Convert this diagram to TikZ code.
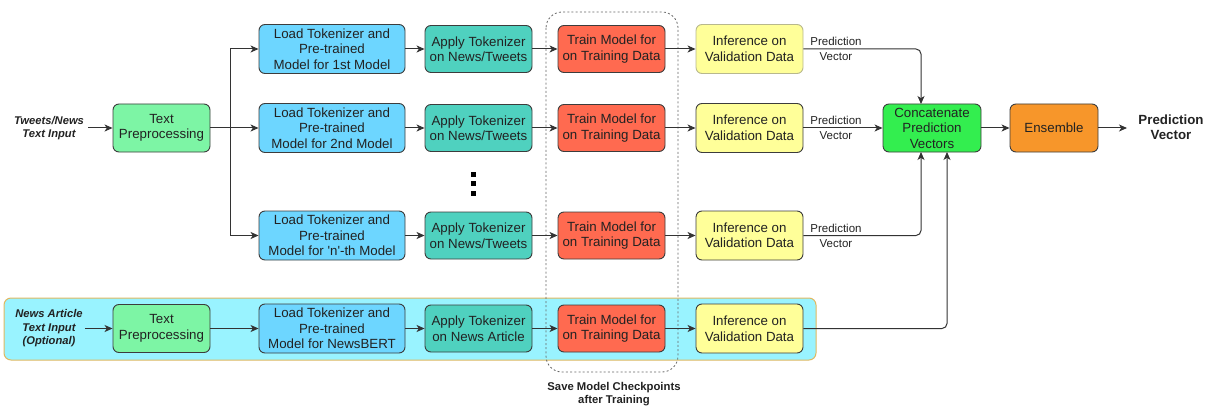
\documentclass[tikz,border=0pt]{standalone}
\usepackage{fontspec}
\setmainfont{Liberation Sans}
\usetikzlibrary{arrows.meta}
\definecolor{boxline}{HTML}{3C3C3C}
\definecolor{txt}{HTML}{222222}
\definecolor{prepc}{HTML}{7DF5A5}
\definecolor{loadc}{HTML}{6DD6FF}
\definecolor{applyc}{HTML}{4FD1BF}
\definecolor{trainc}{HTML}{FF6A50}
\definecolor{infc}{HTML}{FFFF99}
\definecolor{concc}{HTML}{33EE4F}
\definecolor{ensc}{HTML}{F7962A}
\definecolor{bandc}{HTML}{99F3FF}
\definecolor{bandline}{HTML}{E0B860}
\definecolor{linec}{HTML}{333333}
\begin{document}
\begin{tikzpicture}[x=1pt,y=-1pt,
  box/.style={draw=boxline, line width=0.9pt, rounded corners=6pt, align=center,
    inner sep=0pt, text=txt, font=\fontsize{13.3}{15.5}\selectfont},
  prep/.style={box, fill=prepc, minimum width=97pt, minimum height=48pt},
  load/.style={box, fill=loadc, minimum width=146pt, minimum height=49pt},
  apply/.style={box, fill=applyc, minimum width=107pt, minimum height=47pt},
  train/.style={box, fill=trainc, minimum width=107pt, minimum height=47pt},
  infer/.style={box, fill=infc, minimum width=107pt, minimum height=49pt},
  conn/.style={draw=linec, line width=1pt},
  arr/.style={conn, -{Stealth[length=8pt,width=7pt,inset=2.2pt]}},
  lbl/.style={align=center, inner sep=0pt, text=txt, font=\fontsize{11.2}{13.5}\selectfont\bfseries\itshape},
  pv/.style={align=center, inner sep=0pt, text=txt, font=\fontsize{11.5}{15}\selectfont},
  dotsq/.style={fill=black, minimum size=5pt, inner sep=0pt}
]
\useasboundingbox (0,0) rectangle (1215,409);

% optional band
\draw[fill=bandc, draw=bandline, line width=1pt, rounded corners=7pt] (4,298) rectangle (816,360);
% checkpoint region
\draw[draw=gray!80!black, line width=0.8pt, dash pattern=on 2pt off 2.2pt, rounded corners=16pt] (546,12) rectangle (678,372);

% inputs
\node[lbl] (tin) at (49,128) {Tweets/News\\Text Input};
\node[lbl] (nin) at (49,328.5) {News Article\\Text Input\\(Optional)};

% row boxes
\node[prep] (tp1) at (161.5,128) {Text\\Preprocessing};
\node[prep] (tpb) at (161.5,328.5) {Text\\Preprocessing};

\node[load] (l1) at (332,49) {Load Tokenizer and\\Pre-trained\\Model for 1st Model};
\node[load] (l2) at (332,128) {Load Tokenizer and\\Pre-trained\\Model for 2nd Model};
\node[load] (ln) at (332,235.5) {Load Tokenizer and\\Pre-trained\\Model for \textquotesingle n\textquotesingle-th Model};
\node[load] (lb) at (332,328.5) {Load Tokenizer and\\Pre-trained\\Model for NewsBERT};

\node[apply] (a1) at (478.5,49) {Apply Tokenizer\\on News/Tweets};
\node[apply] (a2) at (478.5,128) {Apply Tokenizer\\on News/Tweets};
\node[apply] (an) at (478.5,235.5) {Apply Tokenizer\\on News/Tweets};
\node[apply] (ab) at (478.5,328.5) {Apply Tokenizer\\on News Article};

\node[train] (t1) at (611.5,49) {Train Model for\\on Training Data};
\node[train] (t2) at (611.5,128) {Train Model for\\on Training Data};
\node[train] (tn) at (611.5,235.5) {Train Model for\\on Training Data};
\node[train] (tb) at (611.5,328.5) {Train Model for\\on Training Data};

\node[infer, draw=infc!60!black!70] (i1) at (749.5,49) {Inference on\\Validation Data};
\node[infer] (i2) at (749.5,128) {Inference on\\Validation Data};
\node[infer] (in) at (749.5,235.5) {Inference on\\Validation Data};
\node[infer] (ib) at (749.5,328.5) {Inference on\\Validation Data};

\node[box, fill=concc, minimum width=98pt, minimum height=48pt] (cc) at (932,128) {Concatenate\\Prediction\\Vectors};
\node[box, fill=ensc, minimum width=88pt, minimum height=48pt] (en) at (1054,128) {Ensemble};
\node[align=center, inner sep=0pt, text=txt, font=\fontsize{13.3}{15}\selectfont\bfseries] (out) at (1171,127) {Prediction\\Vector};

% dots
\node[dotsq] (d1) at (473,174) {};
\node[dotsq] (d2) at (473,183.5) {};
\node[dotsq] (d3) at (473,193.5) {};

% labels on prediction lines
\node[pv] (pv1) at (836,49) {Prediction\\Vector};
\node[pv] (pv2) at (836,128) {Prediction\\Vector};
\node[pv] (pvn) at (836,235.5) {Prediction\\Vector};

\node[align=center, inner sep=0pt, text=txt, font=\fontsize{11.3}{12.5}\selectfont\bfseries] (save) at (614,394) {Save Model Checkpoints\\after Training};

% connectors
\coordinate (br) at (230,128);
\draw[arr] (tin.east) ++(4,0) -- (tp1.west);
\draw[arr] (tp1.east) -- (l2.west);
\draw[arr] (br) |- (l1.west);
\draw[arr] (br) |- (ln.west);
\draw[arr] (nin.east |- tpb.west) ++(2,0) -- (tpb.west);
\draw[arr] (tpb.east) -- (lb.west);

\foreach \r in {1,2,n,b}{
  \draw[arr] (l\r.east) -- (a\r.west);
  \draw[arr] (a\r.east) -- (t\r.west);
  \draw[arr] (t\r.east) -- (i\r.west);
}

\coordinate (cin1) at (921,104);
\coordinate (cinn) at (921,152);
\coordinate (cinb) at (947,152);
\draw[arr, rounded corners=5pt] (i1.east) -| (cin1);
\draw[arr] (i2.east) -- (cc.west);
\draw[arr, rounded corners=5pt] (in.east) -| (cinn);
\draw[arr, rounded corners=5pt] (ib.east) -| (cinb);
\draw[arr] (cc.east) -- (en.west);
\draw[arr] (en.east) -- (1127,128);
\end{tikzpicture}
\end{document}
